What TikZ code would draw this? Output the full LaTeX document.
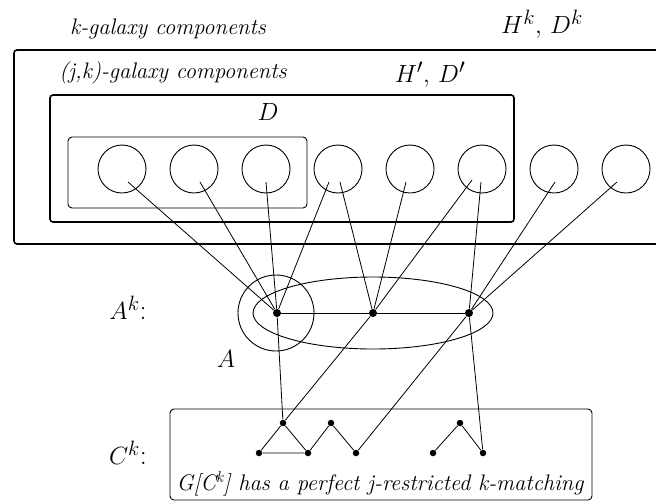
\documentclass[tikz,border=0pt]{standalone}
\usepackage{amsmath}
\usepackage{tikz}
\usetikzlibrary{positioning}

\tikzset{
  comp/.style={draw,circle,minimum size=48pt,inner sep=0pt,line width=0.9pt},
  vtx/.style={fill,circle,inner sep=0pt,minimum size=8pt},
  svtx/.style={fill,circle,inner sep=0pt,minimum size=6.5pt},
  lbl/.style={font=\fontsize{22.5}{26}\selectfont\itshape,inner sep=0pt},
  mlbl/.style={font=\fontsize{28}{32}\selectfont,inner sep=0pt},
  bigbox/.style={line width=1.6pt,rounded corners=3pt},
  thinbox/.style={line width=0.9pt,rounded corners=4pt},
}

\begin{document}
\begin{tikzpicture}[x=1pt,y=-1pt,line width=0.8pt]
  \useasboundingbox (0,0) rectangle (656,501);
  % nested families of components
  \draw[bigbox] (14,50) rectangle (680,244);
  \draw[bigbox] (50,95) rectangle (514,222);
  \draw[thinbox] (68,137) rectangle (307,208);
  \node[lbl] (kgal) at (168,29) {k-galaxy components};
  \node[mlbl] (Hk) at (542,24) {$H^k,\,D^k$};
  \node[lbl] (jkgal) at (173,73) {(j,k)-galaxy components};
  \node[mlbl] (Hp) at (430,75) {$H',\,D'$};
  \node[mlbl] (Dl) at (268,112) {$D$};
  \foreach \i in {1,...,8}
    \node[comp] (c\i) at ({50+72*\i},169) {};
  % free ends of the edges inside the components
  \foreach \e/\c/\dx/\dy in {1/1/6/13, 2/2/6/13, 3/3/0/13, 4/4/-9/13,
                             5/4/2/13, 6/5/-4/13, 7/6/-10/11, 8/6/-1/13,
                             9/7/1/13, 10/8/-9/13}
    \coordinate (e\e) at ([shift={(\dx,\dy)}]c\c.center);

  % A^k
  \draw[line width=0.9pt] (276,313) circle (38pt);
  \draw[line width=0.9pt] (373,313) ellipse (120pt and 36pt);
  \node[vtx] (a1) at (277,313) {};
  \node[vtx] (a2) at (373,313) {};
  \node[vtx] (a3) at (469,313) {};
  \node[mlbl] (Akl) at (128,308) {$A^k$:};
  \node[mlbl] (Al) at (226,359) {$A$};
  \foreach \e in {1,2,3,4} \draw (a1) -- (e\e);
  \foreach \e in {5,6,7} \draw (a2) -- (e\e);
  \foreach \e in {8,9,10} \draw (a3) -- (e\e);
  \draw (a1) -- (a2) -- (a3);

  % C^k
  \draw[thinbox] (170,409) rectangle (592,500);
  \node[mlbl] (Ckl) at (128,453) {$C^k$:};
  \node[svtx] (t1) at (283,423) {};
  \node[svtx] (t2) at (331,423) {};
  \node[svtx] (t3) at (460,423) {};
  \node[svtx] (b1) at (259,453) {};
  \node[svtx] (b2) at (308,453) {};
  \node[svtx] (b3) at (356,453) {};
  \node[svtx] (b4) at (433,453) {};
  \node[svtx] (b5) at (483,453) {};
  \draw (b1) -- (t1) -- (b2) -- (b1);
  \draw (b2) -- (t2) -- (b3);
  \draw (b4) -- (t3) -- (b5);
  \draw (a1) -- (t1);
  \draw (a2) -- (t1);
  \draw (a3) -- (b3);
  \draw (a3) -- (b5);
  \node[lbl] (match) at (380,484)
    {G[C\textsuperscript{k}] has a perfect j-restricted k-matching};
\end{tikzpicture}
\end{document}
